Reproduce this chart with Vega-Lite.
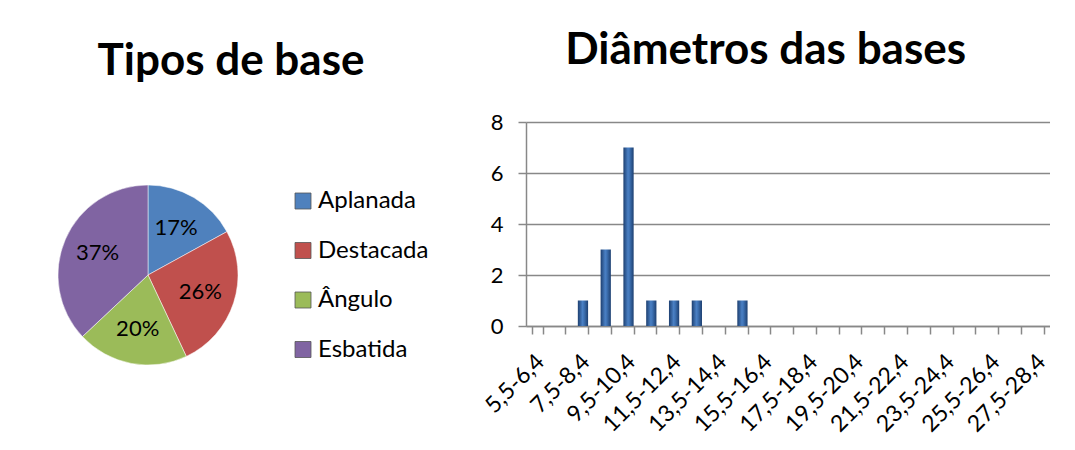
{
  "$schema": "https://vega.github.io/schema/vega-lite/v6.json",
  "background": "white",
  "padding": {"left": 57, "top": 29, "right": 0, "bottom": 0},
  "spacing": 52,
  "resolve": {"legend": {"color": "independent"}, "scale": {"color": "independent"}},
  "config": {
    "font": "Lato",
    "view": {"stroke": null},
    "title": {"font": "Lato", "fontSize": 44, "fontWeight": "bold", "color": "black", "anchor": "middle", "frame": "bounds"}
  },
  "hconcat": [
    {
      "width": 180,
      "height": 306,
      "title": {"text": "Tipos de base", "offset": 38, "dx": -12},
      "data": {"values": [
        {"tipo": "Aplanada", "pct": 0.17, "ordem": 1},
        {"tipo": "Destacada", "pct": 0.26, "ordem": 2},
        {"tipo": "Ângulo", "pct": 0.20, "ordem": 3},
        {"tipo": "Esbatida", "pct": 0.37, "ordem": 4}
      ]},
      "encoding": {
        "theta": {"field": "pct", "type": "quantitative", "stack": true},
        "order": {"field": "ordem", "type": "quantitative"},
        "color": {
          "field": "tipo", "type": "nominal",
          "scale": {"domain": ["Aplanada", "Destacada", "Ângulo", "Esbatida"], "range": ["#4F81BD", "#C0504D", "#9BBB59", "#8064A2"]},
          "legend": {
            "title": null, "orient": "none", "legendX": 233, "legendY": 67, "padding": 0,
            "symbolType": "square", "symbolSize": 256, "symbolStrokeWidth": 0.8, "symbolStrokeColor": "#555",
            "labelFontSize": 24, "labelFont": "Lato", "labelColor": "black", "rowPadding": 25.5, "labelOffset": 3
          }
        }
      },
      "layer": [
        {"mark": {"type": "arc", "outerRadius": 90, "stroke": "white", "strokeWidth": 0.5}},
        {"mark": {"type": "text", "radius": 55, "fontSize": 22, "font": "Lato", "color": "black"},
         "encoding": {"text": {"field": "pct", "type": "quantitative", "format": ".0%"}, "color": {"value": "black"}}}
      ]
    },
    {
      "width": 524,
      "height": 204,
      "title": {"text": "Diâmetros das bases", "offset": 38},
      "data": {"values": [
        {"faixa": "5,5-6,4", "n": 0},
        {"faixa": "6,5-7,4", "n": 0},
        {"faixa": "7,5-8,4", "n": 1},
        {"faixa": "8,5-9,4", "n": 3},
        {"faixa": "9,5-10,4", "n": 7},
        {"faixa": "10,5-11,4", "n": 1},
        {"faixa": "11,5-12,4", "n": 1},
        {"faixa": "12,5-13,4", "n": 1},
        {"faixa": "13,5-14,4", "n": 0},
        {"faixa": "14,5-15,4", "n": 1},
        {"faixa": "15,5-16,4", "n": 0},
        {"faixa": "16,5-17,4", "n": 0},
        {"faixa": "17,5-18,4", "n": 0},
        {"faixa": "18,5-19,4", "n": 0},
        {"faixa": "19,5-20,4", "n": 0},
        {"faixa": "20,5-21,4", "n": 0},
        {"faixa": "21,5-22,4", "n": 0},
        {"faixa": "22,5-23,4", "n": 0},
        {"faixa": "23,5-24,4", "n": 0},
        {"faixa": "24,5-25,4", "n": 0},
        {"faixa": "25,5-26,4", "n": 0},
        {"faixa": "26,5-27,4", "n": 0},
        {"faixa": "27,5-28,4", "n": 0}
      ]},
      "mark": {
        "type": "bar",
        "color": {"gradient": "linear", "x1": 0, "x2": 1, "y1": 0, "y2": 0,
          "stops": [{"offset": 0, "color": "#1d3f70"}, {"offset": 0.45, "color": "#4a80c4"}, {"offset": 0.6, "color": "#3f73b5"}, {"offset": 1, "color": "#1d3f70"}]}
      },
      "encoding": {
        "x": {
          "field": "faixa", "type": "nominal", "sort": null, "title": null,
          "scale": {"paddingInner": 0.55, "paddingOuter": 0.275},
          "axis": {
            "tickBand": "extent", "labelAngle": -45, "labelFontSize": 23, "labelFont": "Lato", "labelColor": "black",
            "labelExpr": "parseInt(split(datum.label, ',')[0]) % 2 == 1 ? datum.label : ''",
            "domainColor": "#888", "domainWidth": 1.5, "tickColor": "#888", "tickWidth": 1.5, "tickSize": 8,
            "labelPadding": 16, "labelOffset": -5, "grid": false, "labelOverlap": false
          }
        },
        "y": {
          "field": "n", "type": "quantitative", "title": null,
          "scale": {"domain": [0, 8]},
          "axis": {
            "values": [0, 2, 4, 6, 8], "labelFontSize": 22, "labelFont": "Lato", "labelColor": "black",
            "domainColor": "#888", "domainWidth": 1.5, "tickColor": "#888", "tickWidth": 1.5, "tickSize": 8,
            "gridColor": "#888", "gridWidth": 1.5, "labelPadding": 15
          }
        }
      }
    }
  ]
}
